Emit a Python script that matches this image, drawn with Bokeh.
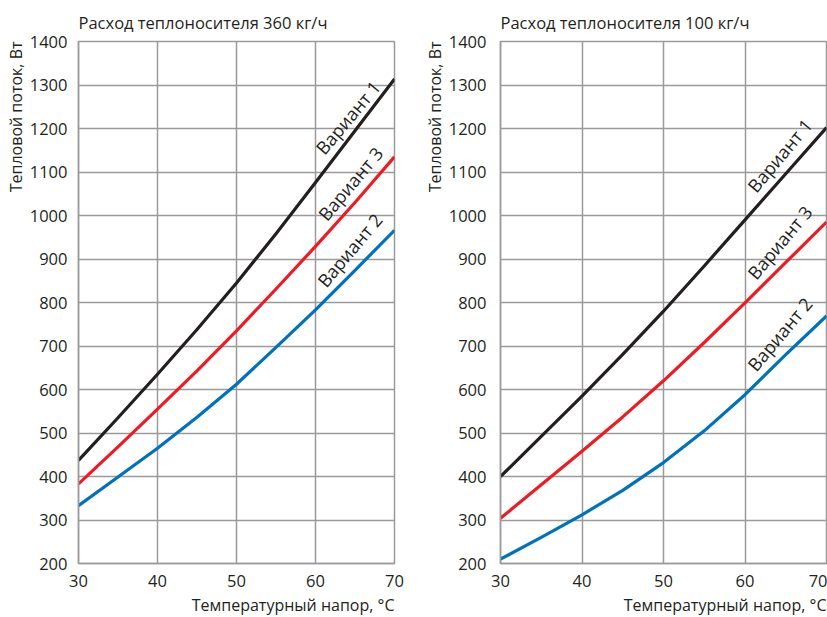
from bokeh.plotting import figure
from bokeh.models import Title, FixedTicker, Range1d
from bokeh.layouts import row
from bokeh.embed import file_html
from bokeh.resources import INLINE
from bokeh.core.properties import value

# ---- data ----
dt = [30, 35, 40, 45, 50, 55, 60, 65, 70]
# Расход 360 кг/ч
q360_v1 = [437, 535, 635, 738, 845, 958, 1076, 1195, 1314]
q360_v3 = [383, 468, 555, 643, 735, 831, 929, 1030, 1135]
q360_v2 = [333, 399, 465, 536, 612, 697, 783, 874, 966]
# Расход 100 кг/ч
q100_v1 = [400, 492, 585, 681, 780, 884, 990, 1096, 1202]
q100_v3 = [304, 381, 458, 537, 620, 708, 799, 892, 985]
q100_v2 = [210, 260, 312, 368, 432, 505, 588, 680, 769]

x_ticks = [30, 40, 50, 60, 70]
y_ticks = [200, 300, 400, 500, 600, 700, 800, 900, 1000, 1100, 1200, 1300, 1400]
series_names = ["Вариант 1", "Вариант 3", "Вариант 2"]
titles = ["Расход теплоносителя 360 кг/ч", "Расход теплоносителя 100 кг/ч"]
x_label = "Температурный напор, °С"
y_label = "Тепловой поток, Вт"

colors = ["#231f20", "#ed1c24", "#0072bc"]
FONT = "Open Sans"
GRID = "#9a9a9c"
TXT = "#231f20"

# label anchors (data coords of text start)
lab_left = [(60.5, 1147), (60.8, 995), (60.7, 842)]
lab_right = [(60.75, 1060), (60.75, 860), (60.75, 649)]


def make(title, series, labs, width, mb_left, mb_right, tick_standoff):
    p = figure(width=width, height=617, output_backend="svg", toolbar_location=None,
               x_range=Range1d(30, 70), y_range=Range1d(200, 1400),
               min_border_left=mb_left, min_border_right=mb_right,
               min_border_top=0, min_border_bottom=0)
    p.title = Title(text=title, align="left", text_font=FONT, text_font_size="16.5px",
                    text_font_style="normal", text_color=TXT, offset=0, standoff=16)
    p.add_layout(Title(text=y_label, align="right", text_font=FONT, text_font_size="16px",
                       text_font_style="normal", text_color=TXT, standoff=0), "left")
    p.add_layout(Title(text=x_label, align="right", text_font=FONT, text_font_size="16px",
                       text_font_style="normal", text_color=TXT, standoff=4), "below")
    p.xaxis.ticker = FixedTicker(ticks=x_ticks)
    p.yaxis.ticker = FixedTicker(ticks=y_ticks)
    for ax in (p.xaxis, p.yaxis):
        ax.major_label_text_font = FONT
        ax.major_label_text_font_size = "16.5px"
        ax.major_label_text_color = TXT
        ax.major_tick_line_color = None
        ax.minor_tick_line_color = None
        ax.axis_line_color = GRID
        ax.axis_line_width = 1.5
    p.xaxis.major_label_standoff = 5
    p.yaxis.major_label_standoff = tick_standoff
    p.xgrid.grid_line_color = GRID
    p.ygrid.grid_line_color = GRID
    p.xgrid.grid_line_width = 1.5
    p.ygrid.grid_line_width = 1.5
    p.outline_line_color = GRID
    p.outline_line_width = 1.5
    p.background_fill_color = "white"
    p.border_fill_color = "white"
    for ys, c in zip(series, colors):
        p.line(dt, ys, line_color=c, line_width=3.2, line_join="round")
    p.text(x=[l[0] for l in labs], y=[l[1] for l in labs], text=series_names,
           angle=50, angle_units="deg", text_align="left", text_baseline="alphabetic",
           text_font=value(FONT), text_font_size="18px", text_color=TXT)
    return p


p1 = make(titles[0], [q360_v1, q360_v3, q360_v2], lab_left, 419, 78, 25, 5)
p2 = make(titles[1], [q100_v1, q100_v3, q100_v2], lab_right, 408, 81, 1, 8)
layout = row(p1, p2, spacing=0)
open("out.html", "w").write(file_html(layout, INLINE))
